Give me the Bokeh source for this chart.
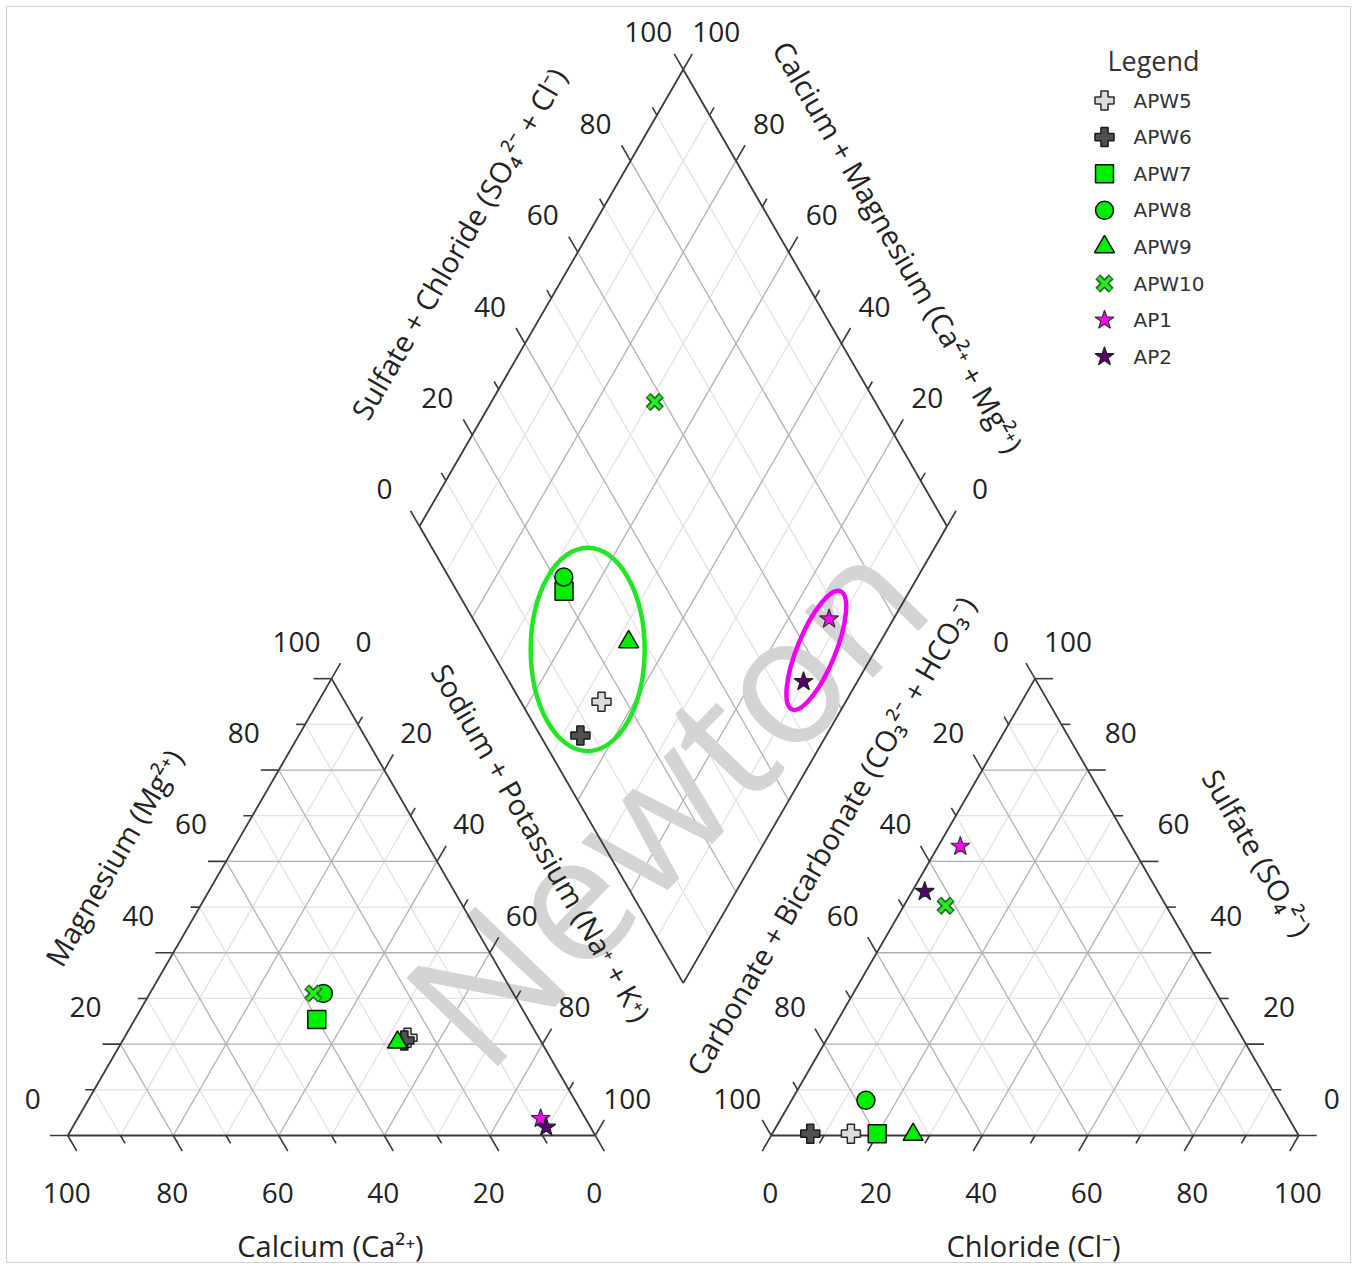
import numpy as np
from bokeh.plotting import figure
from bokeh.models import Range1d, ColumnDataSource, Label
from bokeh.core.properties import value
from bokeh.embed import file_html
from bokeh.resources import INLINE

# ---------------- data (percent of meq) ----------------
samples = ["APW5", "APW6", "APW7", "APW8", "APW9", "APW10", "AP1", "AP2"]
calcium = [24.9, 25.8, 40.1, 36.0, 27.3, 37.9, 8.5, 8.4]
magnesium = [21.4, 20.8, 25.4, 31.1, 20.4, 31.1, 3.7, 1.8]
sodium_potassium = [53.7, 53.4, 34.5, 32.9, 52.3, 31.0, 87.8, 89.8]
carbonate_bicarbonate = [84.7, 92.4, 79.7, 78.2, 73.0, 41.8, 32.5, 44.2]
sulfate = [0.4, 0.4, 0.4, 7.7, 0.2, 50.3, 63.3, 53.4]
chloride = [14.9, 7.2, 19.9, 14.1, 26.8, 7.9, 4.2, 2.4]
tick_values = [0, 20, 40, 60, 80, 100]
tick_labels = ["0", "20", "40", "60", "80", "100"]
green_group = ["APW5", "APW6", "APW7", "APW8", "APW9"]
magenta_group = ["AP1", "AP2"]

# ---------------- geometry ----------------
W, HPX = 1352, 1266
FL, FT, FR, FB = 6, 6, 1350, 1262   # frame edges in page px
S = 5.275                            # px per percent unit
OX, OY = 67.3, 1135.0                # page px of the cation-triangle origin
H = np.sqrt(3) / 2
GAP = 33.35
X0R = 100 + GAP
BX, BY = 100 + GAP / 2, GAP * H


def off(dx, dy):
    return dx / S, -dy / S


def ref(px_, py_):
    return (px_ - OX) / S, (OY - py_) / S


def cation_xy(ca, mg, na):
    return na + mg / 2, mg * H


def anion_xy(hco3, so4, cl):
    return X0R + cl + so4 / 2, so4 * H


def diamond_xy(camg, so4cl):
    return BX + (so4cl - camg) / 2, BY + H * (so4cl + camg)


p = figure(width=W, height=HPX, output_backend="svg", toolbar_location=None,
           x_range=Range1d((FL - OX) / S, (FR - OX) / S),
           y_range=Range1d((OY - FB) / S, (OY - FT) / S),
           x_axis_type=None, y_axis_type=None,
           min_border_left=FL, min_border_top=FT,
           min_border_right=W - FR, min_border_bottom=HPX - FB)
p.outline_line_color = "#d0d0d0"
p.outline_line_width = 1
p.background_fill_color = "white"
p.border_fill_color = "white"

# ---------------- grid / edges ----------------
major = ([], [])
minor = ([], [])
edges = ([], [])


def add_line(a, b, v):
    tgt = edges if v in (0, 100) else (major if v % 20 == 0 else minor)
    tgt[0].append([a[0], b[0]])
    tgt[1].append([a[1], b[1]])


for v in range(0, 101, 10):
    if v < 100:
        add_line((v / 2, v * H), (100 - v / 2, v * H), v)
        add_line((v, 0), (v + (100 - v) / 2, (100 - v) * H), v)
        add_line((100 - v, 0), ((100 - v) / 2, (100 - v) * H), v)
        add_line((X0R + v / 2, v * H), (X0R + 100 - v / 2, v * H), v)
        add_line((X0R + v, 0), (X0R + v + (100 - v) / 2, (100 - v) * H), v)
        add_line((X0R + 100 - v, 0), (X0R + (100 - v) / 2, (100 - v) * H), v)
    add_line(diamond_xy(0, v), diamond_xy(100, v), v)
    add_line(diamond_xy(v, 0), diamond_xy(v, 100), v)

p.multi_line(minor[0], minor[1], line_color="#e2e2e2", line_width=1.3)
p.multi_line(major[0], major[1], line_color="#b0b0b0", line_width=1.3)

# watermark
wm = ref(662, 796)
p.text(x=[wm[0]], y=[wm[1]], text=["Newton"], angle=np.deg2rad(46),
       text_font=value("Open Sans"), text_font_size="178px", text_color="#d4d4d4",
       text_align="center", text_baseline="alphabetic")

p.multi_line(edges[0], edges[1], line_color="#3a3a3a", line_width=1.8)

# ---------------- ticks ----------------
TMAJ, TMIN = 18 / S, 9 / S
tx, ty = [], []


def add_tick(pt, d, v):
    L = TMAJ if v % 20 == 0 else TMIN
    tx.append([pt[0], pt[0] + d[0] * L])
    ty.append([pt[1], pt[1] + d[1] * L])


for v in range(0, 101, 10):
    add_tick((100 - v, 0), (0.5, -H), v)
    add_tick((v / 2, v * H), (-1, 0), v)
    add_tick((v + (100 - v) / 2, (100 - v) * H), (0.5, H), v)
    add_tick((X0R + v, 0), (-0.5, -H), v)
    add_tick((X0R + 100 - v / 2, v * H), (1, 0), v)
    add_tick((X0R + (100 - v) / 2, (100 - v) * H), (-0.5, H), v)
    add_tick(diamond_xy(100, v), (-0.5, H), v)
    add_tick(diamond_xy(v, 100), (0.5, H), v)
p.multi_line(tx, ty, line_color="#3a3a3a", line_width=1.6)

# ---------------- tick labels ----------------
lx, ly, lt = [], [], []


def add_label(pt, o, t):
    d = off(*o)
    lx.append(pt[0] + d[0])
    ly.append(pt[1] + d[1])
    lt.append(t)


for v, t in zip(tick_values, tick_labels):
    add_label((100 - v, 0), (-1, 57), t)
    add_label((v / 2, v * H), (-35, -37), t)
    add_label((v + (100 - v) / 2, (100 - v) * H), (32, -37), t)
    add_label((X0R + v, 0), (-1, 57), t)
    add_label((X0R + 100 - v / 2, v * H), (33, -37), t)
    add_label((X0R + (100 - v) / 2, (100 - v) * H), (-34, -37), t)
    add_label(diamond_xy(100, v), (-35, -37), t)
    add_label(diamond_xy(v, 100), (33, -37), t)

p.text(x=lx, y=ly, text=lt, text_font=value("Open Sans"), text_font_size="28px",
       text_color="#222222", text_align="center", text_baseline="middle")

# ---------------- axis titles ----------------
titles = [
    ("Calcium (Ca²⁺)", (330, 1245), 0),
    ("Chloride (Cl⁻)", (1033, 1245), 0),
    ("Magnesium (Mg²⁺)", (113, 857), 60),
    ("Sodium + Potassium (Na⁺ + K⁺)", (541, 842), -60),
    ("Sulfate + Chloride (SO₄²⁻ + Cl⁻)", (458, 243), 60),
    ("Calcium + Magnesium (Ca²⁺ + Mg²⁺)", (898, 246), -60),
    ("Carbonate + Bicarbonate (CO₃²⁻ + HCO₃⁻)", (830, 835), 60),
    ("Sulfate (SO₄²⁻)", (1257, 852), -60),
]
p.text(x=[ref(*c)[0] for _, c, _ in titles], y=[ref(*c)[1] for _, c, _ in titles],
       text=[t for t, _, _ in titles], angle=[np.deg2rad(a) for _, _, a in titles],
       text_font=value("Open Sans"), text_font_size="29px", text_color="#222222",
       text_align="center", text_baseline="middle")

# ---------------- points ----------------
pts = {}
for i, s in enumerate(samples):
    c = cation_xy(calcium[i], magnesium[i], sodium_potassium[i])
    a = anion_xy(carbonate_bicarbonate[i], sulfate[i], chloride[i])
    d = diamond_xy(calcium[i] + magnesium[i], sulfate[i] + chloride[i])
    pts[s] = ([c[0], a[0], d[0]], [c[1], a[1], d[1]])

# grouping ellipses in the diamond
for grp, color, pad_major, minor_w in [
        (green_group, "#22e622", 8.5, None),
        (magenta_group, "#f000f0", 11.4, 7.2)]:
    gx = np.array([pts[s][0][2] for s in grp])
    gy = np.array([pts[s][1][2] for s in grp])
    cx, cy = gx.mean(), gy.mean()
    if len(grp) == 2:
        ang = np.arctan2(gy[0] - gy[1], gx[0] - gx[1])
        major_len = np.hypot(gx[0] - gx[1], gy[0] - gy[1]) + pad_major
        mn = minor_w
    else:
        ang = np.pi / 2
        major_len = (gy.max() - gy.min()) + pad_major
        mn = (gx.max() - gx.min()) + 9.3
    p.ellipse(x=[cx], y=[cy], width=[major_len], height=[mn], angle=[ang],
              fill_color=None, line_color=color, line_width=4.5)

styles = {
    "APW5": [dict(marker="plus", size=19, fill_color="#dcdcdc", line_color="#2a2a2a", line_width=1.5)],
    "APW6": [dict(marker="plus", size=19, fill_color="#505050", line_color="#1a1a1a", line_width=1.5)],
    "APW7": [dict(marker="square", size=18, fill_color="#00ee00", line_color="#111111", line_width=1.5)],
    "APW8": [dict(marker="circle", size=18, fill_color="#00ee00", line_color="#111111", line_width=1.5)],
    "APW9": [dict(marker="triangle", size=20, fill_color="#00ee00", line_color="#111111", line_width=1.5)],
    "APW10": [dict(marker="x", size=19, line_color="#236b23", line_width=7),
              dict(marker="x", size=17, line_color="#22ee22", line_width=3.5)],
    "AP1": [dict(marker="star", size=20, fill_color="#ff00ff", line_color="#333333", line_width=1.2)],
    "AP2": [dict(marker="star", size=20, fill_color="#560070", line_color="#222222", line_width=1.2)],
}

# legend (drawn with the same marker styles)
LEG_X, LEG_Y0, LEG_DY, LEG_TX = 1104, 100, 36.6, 1133
for i, s in enumerate(samples):
    src = ColumnDataSource(dict(x=pts[s][0], y=pts[s][1]))
    lp = ref(LEG_X, LEG_Y0 + LEG_DY * i)
    lsrc = ColumnDataSource(dict(x=[lp[0]], y=[lp[1]]))
    for st in styles[s]:
        p.scatter(x="x", y="y", source=src, **st)
        p.scatter(x="x", y="y", source=lsrc, **st)

p.text(x=[ref(LEG_TX, 0)[0]] * len(samples),
       y=[ref(0, LEG_Y0 + LEG_DY * i)[1] for i in range(len(samples))],
       text=samples, text_font=value("DejaVu Sans"), text_font_size="20px",
       text_color="#333333", text_align="left", text_baseline="middle")
lg = ref(1153, 60)
p.add_layout(Label(x=lg[0], y=lg[1], text="Legend", text_font="Open Sans",
                   text_font_size="27px", text_color="#333333",
                   text_align="center", text_baseline="middle"))

open("out.html", "w").write(file_html(p, INLINE))
